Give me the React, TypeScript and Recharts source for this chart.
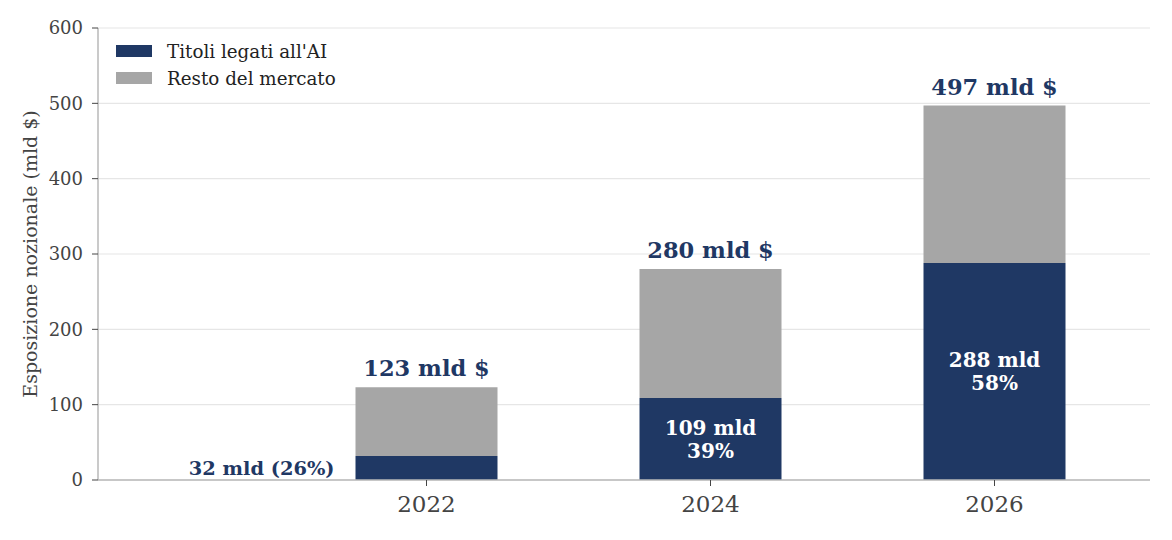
import React from 'react';
import { BarChart, Bar, XAxis, YAxis, CartesianGrid, LabelList } from 'recharts';

const years = ['2022', '2024', '2026'];
const aiValues = [32, 109, 288];
const restValues = [91, 171, 209];
const totals = [123, 280, 497];
const aiShares = [26, 39, 58];
const yTicks = [0, 100, 200, 300, 400, 500, 600];
const seriesNames = ["Titoli legati all'AI", 'Resto del mercato'];

const NAVY = '#1f3864';
const GRAY = '#a6a6a6';
const FONT = '"DejaVu Serif", serif';

const data = years.map((y, i) => ({ year: y, ai: aiValues[i], rest: restValues[i] }));

const TotalLabel = (props: any) => {
  const { x, y, width, index } = props;
  return (
    <text x={x + width / 2} y={y - 11} textAnchor="middle" fill={NAVY} fontFamily={FONT} fontWeight="bold" fontSize={22.5}>
      {`${totals[index]} mld $`}
    </text>
  );
};

const AiLabel = (props: any) => {
  const { x, y, width, height, index } = props;
  if (index === 0) {
    return (
      <text x={x - 21} y={y + height / 2 + 7} textAnchor="end" fill={NAVY} fontFamily={FONT} fontWeight="bold" fontSize={19.4}>
        {`${aiValues[index]} mld (${aiShares[index]}%)`}
      </text>
    );
  }
  const cx = x + width / 2;
  const cy = y + height / 2;
  return (
    <g>
      <text x={cx} y={cy - 11.5 + 7.3} textAnchor="middle" fill="#ffffff" fontFamily={FONT} fontWeight="bold" fontSize={20}>
        {`${aiValues[index]} mld`}
      </text>
      <text x={cx} y={cy + 11.5 + 7.3} textAnchor="middle" fill="#ffffff" fontFamily={FONT} fontWeight="bold" fontSize={20}>
        {`${aiShares[index]}%`}
      </text>
    </g>
  );
};

const LegendBox = () => {
  const colors = [NAVY, GRAY];
  return (
    <div style={{ position: 'absolute', top: 29.5, left: 108, fontFamily: FONT, fontSize: 18.3, color: '#222' }}>
      {seriesNames.map((n, i) => (
        <div key={n} style={{ display: 'flex', alignItems: 'center', height: 27, whiteSpace: 'nowrap' }}>
          <div style={{ width: 36, height: 12, background: colors[i], marginRight: 15 }} />
          <span>{n}</span>
        </div>
      ))}
    </div>
  );
};

export default function App() {
  return (
    <div style={{ position: 'relative', width: 1160, height: 530, background: '#fff' }}>
      <BarChart
        width={1160}
        height={530}
        data={data}
        margin={{ top: 20, right: 18, bottom: 18, left: 20 }}
      >
        <CartesianGrid vertical={false} stroke="#e6e6e6" strokeWidth={1.2} />
        <XAxis
          dataKey="year"
          height={40}
          padding={{ left: 186.5, right: 13.5 }}
          axisLine={{ stroke: '#b8b8b8', strokeWidth: 1.5 }}
          tickLine={{ stroke: '#444' }}
          tickSize={6}
          tickMargin={10}
          tick={{ fill: '#444', fontSize: 23, fontFamily: FONT }}
        />
        <YAxis
          width={70}
          domain={[0, 600]}
          ticks={yTicks}
          axisLine={{ stroke: '#b8b8b8', strokeWidth: 1.5 }}
          tickLine={{ stroke: '#444' }}
          tickSize={6}
          tickMargin={9}
          tick={{ fill: '#444', fontSize: 18, fontFamily: FONT }}
          label={{
            value: 'Esposizione nozionale (mld $)',
            angle: -90,
            position: 'insideLeft',
            offset: 2,
            style: { textAnchor: 'middle', fill: '#444', fontSize: 19, fontFamily: FONT },
          }}
        />
        <Bar dataKey="ai" stackId="a" fill={NAVY} barSize={142} isAnimationActive={false}>
          <LabelList dataKey="ai" content={<AiLabel />} />
        </Bar>
        <Bar dataKey="rest" stackId="a" fill={GRAY} barSize={142} isAnimationActive={false}>
          <LabelList dataKey="rest" content={<TotalLabel />} />
        </Bar>
      </BarChart>
      <LegendBox />
    </div>
  );
}
